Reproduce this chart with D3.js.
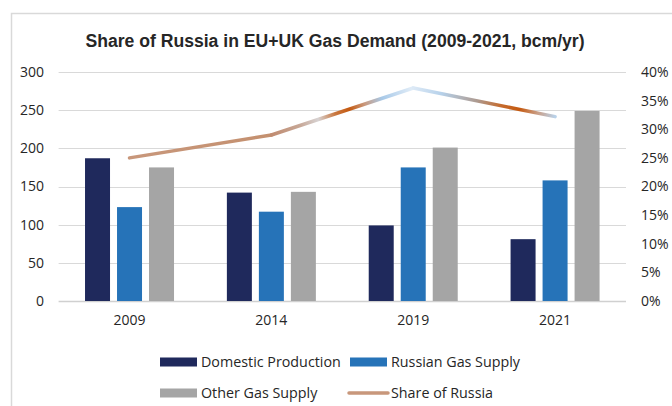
<!DOCTYPE html>
<html><head><meta charset="utf-8">
<script src="https://cdn.jsdelivr.net/npm/d3@7"></script>
<style>
html,body{margin:0;padding:0;background:#fff;}
svg{display:block;font-family:"Liberation Sans",Arial,sans-serif;}
</style></head>
<body>
<svg id="c" width="672" height="406"></svg>
<script>
const years = ["2009","2014","2019","2021"];
const seriesNames = ["Domestic Production","Russian Gas Supply","Other Gas Supply"];
const domestic = [187, 142, 99, 81];
const russian = [123, 117, 175, 158];
const other = [175, 143, 201, 249];
const shareOfRussia = [0.25, 0.29, 0.372, 0.322];
const leftTicks = [0,50,100,150,200,250,300];
const rightTicks = [0,0.05,0.10,0.15,0.20,0.25,0.30,0.35,0.40];
const colors = ["#1f295c","#2673b8","#a5a5a5"];
const lineColor = "#c8977b";

(function(){
const svg = d3.select("#c");
const W = 672, H = 406;
const pLeft = 58.6, pRight = 626, pTop = 72, pBottom = 301;

// chart border
svg.append("path").attr("d", `M11.5,${H} L11.5,13.5 L${W},13.5`)
  .attr("fill","none").attr("stroke","#d9d9d9").attr("stroke-width",1.5);

svg.append("text").attr("x",335).attr("y",47).attr("text-anchor","middle")
  .attr("font-size",17.6).attr("font-weight","bold").attr("fill","#262626")
  .text("Share of Russia in EU+UK Gas Demand (2009-2021, bcm/yr)");

const x0 = d3.scaleBand().domain(years).range([pLeft,pRight]).padding(0);
const groupW = 89;
const x1 = d3.scaleBand().domain(seriesNames).range([0,groupW]).paddingInner(0.219).paddingOuter(0);
const y = d3.scaleLinear().domain([0,300]).range([pBottom,pTop]);
const y2 = d3.scaleLinear().domain([0,0.4]).range([pBottom,pTop]);

// gridlines
svg.append("g").selectAll("line").data(leftTicks).join("line")
  .attr("x1",pLeft).attr("x2",pRight)
  .attr("y1",d=>Math.round(y(d))+0.5).attr("y2",d=>Math.round(y(d))+0.5)
  .attr("stroke",d=>d===0?"#d0d0d0":"#d9d9d9").attr("stroke-width",d=>d===0?1.5:1.2);

const tickFont = "'Open Sans','Liberation Sans',sans-serif";
// left axis labels
const axL = d3.axisLeft(y).tickValues(leftTicks).tickSize(0).tickPadding(0);
const gL = svg.append("g").attr("transform","translate(44,0)").call(axL);
gL.select(".domain").remove();
gL.selectAll("text").attr("font-size",14).attr("fill","#262626").attr("font-family",tickFont);

// right axis labels
const axR = d3.axisRight(y2).tickValues(rightTicks).tickSize(0).tickPadding(0).tickFormat(d3.format(".0%"));
const gR = svg.append("g").attr("transform","translate(641,0)").call(axR);
gR.select(".domain").remove();
gR.selectAll("text").attr("font-size",14).attr("fill","#262626").attr("font-family",tickFont);

// x axis labels
const axB = d3.axisBottom(x0).tickSize(0).tickPadding(0);
const gB = svg.append("g").attr("transform",`translate(0,${pBottom+14})`).call(axB);
gB.select(".domain").remove();
gB.selectAll("text").attr("font-size",14).attr("fill","#262626").attr("dy","0.71em").attr("font-family",tickFont);

// bars
const values = [domestic, russian, other];
const offset = (x0.bandwidth()-groupW)/2;
const bars = [];
years.forEach((yr,i)=>seriesNames.forEach((s,j)=>bars.push({yr,s,j,v:values[j][i]})));
svg.append("g").selectAll("rect").data(bars).join("rect")
  .attr("x",d=>x0(d.yr)+offset+x1(d.s))
  .attr("width",x1.bandwidth())
  .attr("y",d=>y(d.v))
  .attr("height",d=>y(0)-y(d.v))
  .attr("fill",d=>colors[d.j]);

// line with gradient segments
const pts = years.map((yr,i)=>[x0(yr)+x0.bandwidth()/2, y2(shareOfRussia[i])]);
const defs = svg.append("defs");
const segStops = [
  [[0,lineColor],[1,"#c4906f"]],
  [[0,"#c08b70"],[0.2,"#c7a796"],[0.33,"#d7d2d2"],[0.45,"#c9773f"],[0.55,"#c55a11"],[0.66,"#c99a80"],[0.78,"#a8c9e8"],[1,"#e3eef8"]],
  [[0,"#dce9f6"],[0.2,"#b6d1ea"],[0.45,"#ad9a90"],[0.62,"#c56a2c"],[0.75,"#c55a11"],[0.88,"#c9a08a"],[1,"#b9d2ea"]]
];
for(let k=0;k<pts.length-1;k++){
  const g = defs.append("linearGradient").attr("id","g"+k).attr("gradientUnits","userSpaceOnUse")
    .attr("x1",pts[k][0]).attr("y1",pts[k][1]).attr("x2",pts[k+1][0]).attr("y2",pts[k+1][1]);
  segStops[k].forEach(s=>g.append("stop").attr("offset",s[0]).attr("stop-color",s[1]));
  svg.append("path").attr("d",d3.line()([pts[k],pts[k+1]]))
    .attr("stroke",`url(#g${k})`).attr("stroke-width",3.5).attr("fill","none").attr("stroke-linecap","round");
}

// legend
const leg = svg.append("g").attr("font-family",tickFont).attr("font-size",14.3).attr("fill","#262626");
const legItems = [
  {x:160,y:362,label:seriesNames[0],type:"rect",c:colors[0]},
  {x:350,y:362,label:seriesNames[1],type:"rect",c:colors[1]},
  {x:160,y:393,label:seriesNames[2],type:"rect",c:colors[2]},
  {x:349,y:393,label:"Share of Russia",type:"line",c:lineColor}
];
legItems.forEach(it=>{
  if(it.type==="rect"){
    leg.append("rect").attr("x",it.x).attr("y",it.y-4.5).attr("width",37).attr("height",9).attr("fill",it.c);
  } else {
    leg.append("line").attr("x1",it.x).attr("x2",it.x+39).attr("y1",it.y).attr("y2",it.y)
      .attr("stroke",it.c).attr("stroke-width",3.5).attr("stroke-linecap","round");
  }
  leg.append("text").attr("x",it.type==="rect"?it.x+41:it.x+42).attr("y",it.y).attr("dy","0.35em").attr("fill","#262626").text(it.label);
});
})();
</script>
</body></html>
